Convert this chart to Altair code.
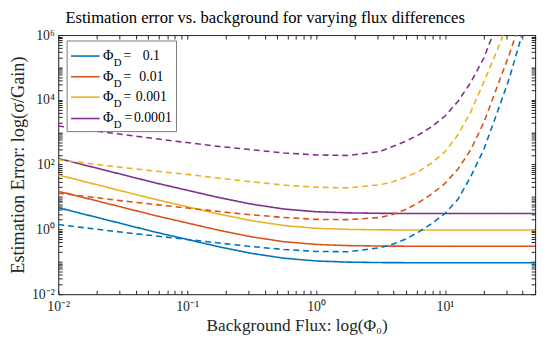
import altair as alt
import pandas as pd

FONT = "Liberation Serif"
SERIES = ["0.1", "0.01", "0.001", "0.0001"]
COLORS = ["#0072BD", "#D95319", "#EDB120", "#7E2F8E"]
LEGEND_VALUE = ["0.1", "0.01", "0.001", "0.0001"]
TITLE = "Estimation error vs. background for varying flux differences"

X_TICK_LABELS = {0.01: "10⁻²", 0.1: "10⁻¹", 1: "10⁰", 10: "10¹"}
Y_TICK_LABELS = {0.01: "10⁻²", 1: "10⁰", 100: "10²", 10000: "10⁴", 1000000: "10⁶"}

x_solid = [0.01, 0.0178, 0.0316, 0.0562, 0.1, 0.178, 0.316, 0.562, 1.0, 1.78,
           3.16, 5.62, 10.0, 17.8, 31.6, 50.0]
solid_blue = [4.68, 2.63, 1.48, 0.832, 0.49, 0.288, 0.182, 0.129, 0.106, 0.0977,
              0.0946, 0.0938, 0.0933, 0.0933, 0.0933, 0.0933]
solid_red = [15.1, 8.51, 4.79, 2.69, 1.58, 0.933, 0.589, 0.417, 0.343, 0.316,
             0.306, 0.303, 0.302, 0.302, 0.302, 0.302]
solid_yellow = [47.9, 26.9, 15.1, 8.51, 5.01, 2.95, 1.86, 1.32, 1.08, 1.00,
                0.968, 0.959, 0.955, 0.955, 0.955, 0.955]
solid_purple = [155, 87.1, 49.0, 27.5, 16.2, 9.55, 6.03, 4.27, 3.51, 3.24,
                3.13, 3.10, 3.09, 3.09, 3.09, 3.09]

x_dashed = [0.01, 0.0178, 0.0316, 0.0562, 0.1, 0.178, 0.316, 0.562, 1.0, 1.78,
            3.16, 3.98, 5.01, 6.31, 7.94, 10.0, 12.6, 15.8, 20.0, 25.1, 31.6, 39.8, 50.1]
dashed_blue = [1.41, 1.07, 0.813, 0.631, 0.490, 0.380, 0.295, 0.240, 0.209, 0.204,
               0.275, 0.355, 0.513, 0.851, 1.55, 3.09, 8.51, 41.7, 295, 3550, 46800,
               1.12e6, 3.16e7]
dashed_red = [13.2, 10.0, 7.59, 5.89, 4.57, 3.55, 2.82, 2.34, 2.04, 2.00,
              2.34, 2.95, 4.17, 6.92, 12.6, 26.3, 72.4, 282, 2000, 22400, 257000, 3.98e6]
dashed_yellow = [141, 107, 81.3, 63.1, 50.1, 38.0, 29.5, 23.4, 20.0, 19.1,
                 24.0, 30.2, 41.7, 63.1, 115, 251, 832, 4170, 35500, 302000, 3.16e6]
dashed_purple = [1550, 1150, 851, 631, 479, 363, 288, 229, 200, 191,
                 257, 372, 537, 851, 1510, 3160, 8910, 33900, 195000, 2.0e6, 2.5e7]

solid = [solid_blue, solid_red, solid_yellow, solid_purple]
dashed = [dashed_blue, dashed_red, dashed_yellow, dashed_purple]

rows = []
for s, ys in zip(SERIES, solid):
    for xv, yv in zip(x_solid, ys):
        rows.append({"series": s, "style": "solid", "x": xv, "y": yv})
for s, ys in zip(SERIES, dashed):
    for xv, yv in zip(x_dashed, ys):
        rows.append({"series": s, "style": "dashed", "x": xv, "y": yv})
df = pd.DataFrame(rows)

# tick positions (decades + minor ticks)
x_ticks = []
for d in [0.01, 0.1, 1, 10]:
    for m in range(1, 10):
        v = round(m * d, 6)
        if v <= 50:
            x_ticks.append(v)
y_ticks = []
for k in range(-2, 6):
    for m in range(1, 10):
        y_ticks.append(round(m * 10.0 ** k, 6))
y_ticks.append(1000000)


def label_expr(mapping):
    expr = "''"
    for v, t in reversed(list(mapping.items())):
        expr = f"abs(datum.value - {v}) < {v}*1e-6 ? '{t}' : " + expr
    return expr


xscale = alt.Scale(type="log", domain=[0.01, 50], nice=False)
yscale = alt.Scale(type="log", domain=[0.01, 1e6], nice=False)
AX = "#262626"
TICK = {"expr": "-4"}

lines = alt.Chart(df).mark_line(clip=True, strokeWidth=1.6).encode(
    x=alt.X("x:Q", scale=xscale, axis=alt.Axis(
        values=x_ticks, labelExpr=label_expr(X_TICK_LABELS), tickSize=TICK,
        grid=False, domainColor=AX, tickColor=AX, labelColor=AX,
        labelFont=FONT, labelFontSize=14, labelPadding=10, labelFlush=False,
        title="Background Flux: log(Φ₀)", titleFont=FONT, titleFontSize=17.5,
        titleFontWeight="normal", titleColor=AX, titlePadding=3)),
    y=alt.Y("y:Q", scale=yscale, axis=alt.Axis(
        values=y_ticks, labelExpr=label_expr(Y_TICK_LABELS), tickSize=TICK,
        grid=False, domainColor=AX, tickColor=AX, labelColor=AX,
        labelFont=FONT, labelFontSize=14, labelPadding=8, labelFlush=False,
        title="Estimation Error: log(σ/Gain)", titleFont=FONT, titleFontSize=18.5,
        titleFontWeight="normal", titleColor=AX, titlePadding=4)),
    color=alt.Color("series:N", scale=alt.Scale(domain=SERIES, range=COLORS), legend=None),
    strokeDash=alt.StrokeDash("style:N", scale=alt.Scale(domain=["solid", "dashed"],
                                                          range=[[1, 0], [6, 4]]), legend=None),
    order=alt.Order("x:Q"),
)

frame = alt.Chart(df).mark_line(opacity=0).encode(
    x=alt.X("x:Q", scale=xscale, axis=alt.Axis(
        orient="top", values=x_ticks, labels=False, title=None, tickSize=TICK,
        grid=False, domainColor=AX, tickColor=AX)),
    y=alt.Y("y:Q", scale=yscale, axis=alt.Axis(
        orient="right", values=y_ticks, labels=False, title=None, tickSize=TICK,
        grid=False, domainColor=AX, tickColor=AX)),
    detail="series:N",
)

one = alt.InlineData(values=[{"k": 1}])
title_layer = alt.Chart(one).mark_text(
    align="center", baseline="alphabetic", font=FONT, fontSize=16.8, color="black").encode(
    x=alt.value(210), y=alt.value(-12), text=alt.value(TITLE))

legend_layers = [
    alt.Chart(one).mark_rect(fill="white", stroke="#555555", strokeWidth=0.8).encode(
        x=alt.value(9), x2=alt.value(120), y=alt.value(6), y2=alt.value(98))
]
row_y = [21.3, 42.3, 63, 84.7]
for i, (c, t) in enumerate(zip(COLORS, LEGEND_VALUE)):
    yv = row_y[i]
    legend_layers.append(alt.Chart(one).mark_rule(color=c, strokeWidth=1.6).encode(
        x=alt.value(13), x2=alt.value(42), y=alt.value(yv)))
    legend_layers.append(alt.Chart(one).mark_text(
        align="left", baseline="middle", font=FONT, fontSize=14.5, color="black").encode(
        x=alt.value(45.5), y=alt.value(yv), text=alt.value("Φ")))
    legend_layers.append(alt.Chart(one).mark_text(
        align="left", baseline="middle", font=FONT, fontSize=11, color="black").encode(
        x=alt.value(56.3), y=alt.value(yv + 7), text=alt.value("D")))
    legend_layers.append(alt.Chart(one).mark_text(
        align="left", baseline="middle", font=FONT, fontSize=14, color="black").encode(
        x=alt.value(66.3 if i < 3 else 67.3), y=alt.value(yv), text=alt.value("=")))
    legend_layers.append(alt.Chart(one).mark_text(
        align="center", baseline="middle", font=FONT, fontSize=14, color="black").encode(
        x=alt.value(94.5 if i < 3 else 96), y=alt.value(yv), text=alt.value(t)))

chart = alt.layer(lines, frame, title_layer, *legend_layers).resolve_axis(
    x="independent", y="independent"
).properties(
    width=484, height=263,
    autosize=alt.AutoSizeParams(type="none"),
    padding={"left": 51, "top": 25, "right": 7, "bottom": 42},
).configure_view(stroke=None).configure(background="white")

chart.save("out.html", embed_options={"renderer": "svg", "actions": False})
